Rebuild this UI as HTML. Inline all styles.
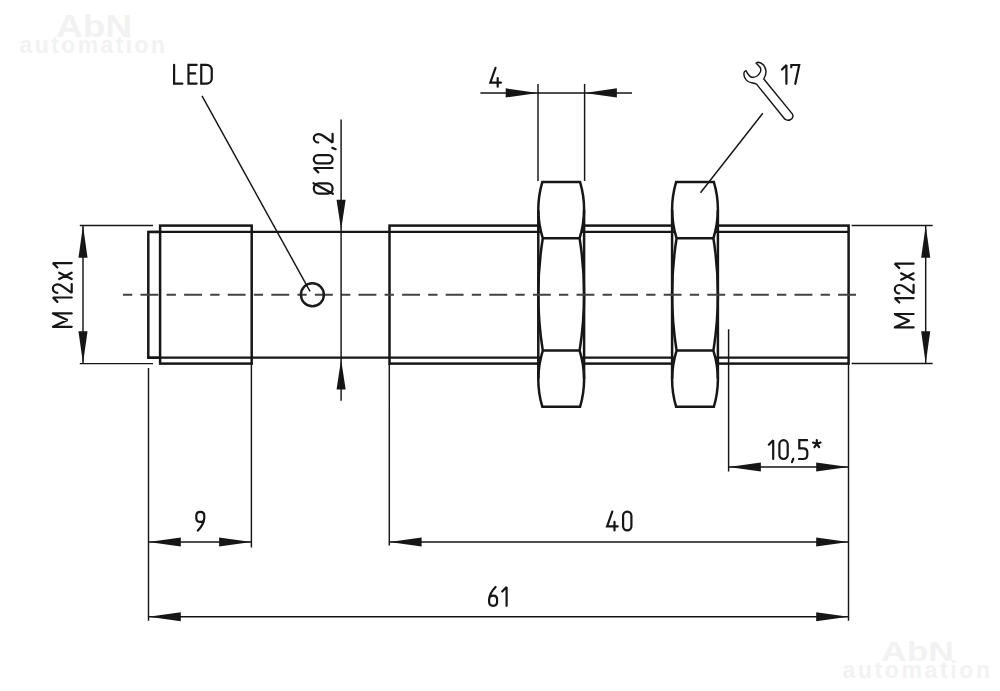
<!DOCTYPE html>
<html><head><meta charset="utf-8"><title>drawing</title>
<style>html,body{margin:0;padding:0;background:#fff;width:1000px;height:691px;overflow:hidden}svg{display:block}</style>
</head><body>
<svg width="1000" height="691" viewBox="0 0 1000 691">
<style>
.th{fill:none;stroke:#161616;stroke-width:2.5;stroke-linejoin:miter}
.tm{fill:none;stroke:#161616;stroke-width:2.2}
.tn{fill:none;stroke:#161616;stroke-width:1.45}
.wf{fill:#fff}
.ar{fill:#161616;stroke:none}
.tx path{fill:none;stroke:#161616;stroke-width:2.2;stroke-linecap:round;stroke-linejoin:miter;stroke-miterlimit:2}
.dash{fill:none;stroke:#424242;stroke-width:2.1;stroke-dasharray:9.3 8.2 17.9 8.2}
.wm{font-family:"Liberation Sans",sans-serif;font-weight:bold;fill:#f2f2f2}
</style>
<g class="wm">
<text x="56" y="36.5" font-size="30.5" textLength="76" lengthAdjust="spacingAndGlyphs">AbN</text>
<text x="19.5" y="53.4" font-size="23" textLength="145.5" lengthAdjust="spacing">automation</text>
<text x="881" y="660.6" font-size="28" textLength="73" lengthAdjust="spacingAndGlyphs">AbN</text>
<text x="842.5" y="678.2" font-size="23" textLength="147.5" lengthAdjust="spacing">automation</text>
</g>
<path class="th" d="M160.1,231.9 H148.3 V357.7 H160.1"/>
<rect class="th" x="160.1" y="225.6" width="91.6" height="138.0"/>
<path class="tm" d="M148.3,231.9 H389.5 M148.3,357.7 H389.5"/>
<rect class="th" x="389.5" y="225.6" width="459.1" height="138.0"/>
<path class="tm" d="M389.5,231.9 H848.6 M389.5,357.7 H848.6"/>
<path class="th wf" d="M542.30,182.1 H580.10 Q588.35,210.20 579.60,238.3 H542.80 Q534.05,210.20 542.30,182.1 Z M542.80,238.3 H579.60 Q588.60,294.45 579.60,350.6 H542.80 Q533.80,294.45 542.80,238.3 Z M542.80,350.6 H579.60 Q588.35,378.65 580.10,406.7 H542.30 Q534.05,378.65 542.80,350.6 Z"/><path class="th" d="M538.30,210.20 V378.65 M584.10,210.20 V378.65"/>
<path class="th wf" d="M676.10,182.1 H713.90 Q722.15,210.20 713.40,238.3 H676.60 Q667.85,210.20 676.10,182.1 Z M676.60,238.3 H713.40 Q722.40,294.45 713.40,350.6 H676.60 Q667.60,294.45 676.60,238.3 Z M676.60,350.6 H713.40 Q722.15,378.65 713.90,406.7 H676.10 Q667.85,378.65 676.60,350.6 Z"/><path class="th" d="M672.10,210.20 V378.65 M717.90,210.20 V378.65"/>
<path class="dash" d="M123,294.7 H856"/>
<circle cx="312.4" cy="294.8" r="11.5" fill="none" stroke="#1a1a1a" stroke-width="2.4"/>
<path class="tn" d="M202,95.8 L310,291.3"/>
<path class="ar" d="M341.10,229.80 L336.55,199.80 L345.65,199.80 Z"/>
<path class="ar" d="M341.10,359.60 L336.55,389.60 L345.65,389.60 Z"/>
<path class="ar" d="M83.00,225.50 L78.45,257.80 L87.55,257.80 Z"/>
<path class="ar" d="M83.00,363.60 L78.45,331.30 L87.55,331.30 Z"/>
<path class="ar" d="M925.70,225.50 L921.15,257.80 L930.25,257.80 Z"/>
<path class="ar" d="M925.70,363.50 L921.15,331.20 L930.25,331.20 Z"/>
<path class="ar" d="M538.00,92.90 L505.70,88.35 L505.70,97.45 Z"/>
<path class="ar" d="M584.60,92.90 L616.90,88.35 L616.90,97.45 Z"/>
<path class="ar" d="M148.50,542.00 L180.80,537.45 L180.80,546.55 Z"/>
<path class="ar" d="M251.40,542.00 L219.10,537.45 L219.10,546.55 Z"/>
<path class="ar" d="M389.30,542.00 L421.60,537.45 L421.60,546.55 Z"/>
<path class="ar" d="M848.50,542.00 L816.20,537.45 L816.20,546.55 Z"/>
<path class="ar" d="M148.50,616.70 L180.80,612.15 L180.80,621.25 Z"/>
<path class="ar" d="M848.50,616.70 L816.20,612.15 L816.20,621.25 Z"/>
<path class="ar" d="M728.60,467.00 L760.90,462.45 L760.90,471.55 Z"/>
<path class="ar" d="M848.50,467.00 L816.20,462.45 L816.20,471.55 Z"/>
<path class="tn" d="M341.1,119.4 V400.8 M79.8,225.5 H153 M79.8,363.6 H153 M83,225.5 V363.6 M851.6,225.5 H932.6 M851.6,363.5 H932.6 M925.7,225.5 V363.5 M480.4,92.9 H632 M538,84 V181 M584.6,84 V181 M762.8,113.2 L700.5,192.7 M148.5,368 V620.8 M251.4,363.5 V547.4 M389.3,364 V545.6 M848.5,363.5 V620.8 M728.6,329.3 V471.6 M148.5,542 H251.4 M389.3,542 H848.5 M148.5,616.7 H848.5 M728.6,467 H848.5"/>
<path class="tn" stroke-width="1.5" stroke-linejoin="round" d="M745.9,70.6 C747.5,73.5 749,76.5 751.5,77.2 C755,77.8 758.5,75.5 760.3,72 C761.3,69.5 760.5,67 758.7,65.8 L756.1,63.2 C756.8,62.5 757.8,62.2 758.6,62.2 C762.5,62.8 765.8,66.5 766,71.5 C766.1,74.5 765,77 763.8,79 L792.3,113.9 C793.7,116 792.7,118.8 790.3,119.7 C788.5,120.4 786.5,120.3 784.9,119.2 L756.5,84.1 C754,82.9 750.5,83 748,81.5 C745,79.5 743.8,76.5 743.9,73.2 C744,72 744.8,71 745.9,70.6 Z"/>
<g class="tx">
<g transform="translate(173.0,63.7)"><path transform="translate(0,0)" d="M1.1,1.1 V19.9 H9.4" /><path transform="translate(14.4,0)" d="M9.25,1.1 H1.1 V19.9 H9.25 M1.1,9.75 H7.75" /><path transform="translate(27.15,0)" d="M1.1,1.1 H6.4 A5.2,5.2 0 0 1 11.6,6.3 V14.7 A5.2,5.2 0 0 1 6.4,19.9 H1.1 Z" /></g>
<g transform="translate(489.2,66.8)"><path transform="translate(0,0)" d="M6.3,1.1 L1.1,15.9 H11.7 M8.5,11.4 V19.9" /></g>
<g transform="translate(780.6,63.9)"><path transform="translate(0,0)" d="M1.4,5.6 L5.8,1.1 V19.9" /><path transform="translate(9.6,0)" d="M1.1,3.4 V1.1 H9.0 L5.1,19.9" /></g>
<g transform="translate(195.2,510.7)"><path transform="translate(0,0) rotate(180 5.1 10.5)" d="M7.6,1.1 Q1.6,7 1.1,13.8 M1.1,13.8 Q1.1,9.8 5.1,9.8 Q9.1,9.8 9.1,13.8 V15.9 Q9.1,19.9 5.1,19.9 Q1.1,19.9 1.1,15.9 Z" /></g>
<g transform="translate(606.0,510.5)"><path transform="translate(0,0)" d="M6.3,1.1 L1.1,15.9 H11.7 M8.5,11.4 V19.9" /><path transform="translate(16.0,0)" d="M1.1,5.25 A4.15,4.15 0 0 1 9.4,5.25 V15.75 A4.15,4.15 0 0 1 1.1,15.75 Z" /></g>
<g transform="translate(488.0,585.9)"><path transform="translate(0,0)" d="M7.6,1.1 Q1.6,7 1.1,13.8 M1.1,13.8 Q1.1,9.8 5.1,9.8 Q9.1,9.8 9.1,13.8 V15.9 Q9.1,19.9 5.1,19.9 Q1.1,19.9 1.1,15.9 Z" /><path transform="translate(12.8,0)" d="M1.4,5.6 L5.8,1.1 V19.9" /></g>
<g transform="translate(767.4,439.1)"><path transform="translate(0,0)" d="M1.4,5.6 L5.8,1.1 V19.9" /><path transform="translate(10.9,0)" d="M1.1,5.25 A4.15,4.15 0 0 1 9.4,5.25 V15.75 A4.15,4.15 0 0 1 1.1,15.75 Z" /><path transform="translate(22.9,0)" d="M3.0,19.6 L1.7,23.0" /><path transform="translate(30.4,0)" d="M9.3,1.1 H1.5 V9.2 H5.3 Q9.5,9.2 9.5,13.5 V15.6 Q9.5,19.9 5.3,19.9 H1.1" /><path transform="translate(43.8,0)" d="M5.6,0.9 V4.7 L9.4,3.46 M5.6,4.7 L7.95,7.94 M5.6,4.7 L3.25,7.94 M5.6,4.7 L1.8,3.46" /></g>
<g transform="translate(312.7,194.7) rotate(-90)"><path transform="translate(0,0)" d="M1.1,6.2 A5.1,5.1 0 0 1 11.3,6.2 V14.8 A5.1,5.1 0 0 1 1.1,14.8 Z M11.5,0.8 L0.9,20.2" /><path transform="translate(20.9,0)" d="M1.4,5.6 L5.8,1.1 V19.9" /><path transform="translate(30.2,0)" d="M1.1,5.25 A4.15,4.15 0 0 1 9.4,5.25 V15.75 A4.15,4.15 0 0 1 1.1,15.75 Z" /><path transform="translate(43.8,0)" d="M3.0,19.6 L1.7,23.0" /><path transform="translate(51.1,0)" d="M1.1,5.6 A4.2,4.5 0 0 1 9.5,5.6 Q9.5,8.2 7.6,10.8 L1.1,19.9 H9.7" /></g>
<g transform="translate(51.8,327.9) rotate(-90)"><path transform="translate(0,0)" d="M1.1,19.9 V1.1 M14.5,19.9 V1.1 M1.5,1.6 L7.8,15.7 L14.1,1.6" /><path transform="translate(24.6,0)" d="M1.4,5.6 L5.8,1.1 V19.9" /><path transform="translate(34.0,0)" d="M1.1,5.6 A4.2,4.5 0 0 1 9.5,5.6 Q9.5,8.2 7.6,10.8 L1.1,19.9 H9.7" /><path transform="translate(46.9,0)" d="M1.9,7.4 L8.3,19.9 M8.3,7.4 L1.9,19.9" /><path transform="translate(59.0,0)" d="M1.4,5.6 L5.8,1.1 V19.9" /></g>
<g transform="translate(893.7,328.5) rotate(-90)"><path transform="translate(0,0)" d="M1.1,19.9 V1.1 M14.5,19.9 V1.1 M1.5,1.6 L7.8,15.7 L14.1,1.6" /><path transform="translate(24.6,0)" d="M1.4,5.6 L5.8,1.1 V19.9" /><path transform="translate(34.0,0)" d="M1.1,5.6 A4.2,4.5 0 0 1 9.5,5.6 Q9.5,8.2 7.6,10.8 L1.1,19.9 H9.7" /><path transform="translate(46.9,0)" d="M1.9,7.4 L8.3,19.9 M8.3,7.4 L1.9,19.9" /><path transform="translate(59.0,0)" d="M1.4,5.6 L5.8,1.1 V19.9" /></g>
</g>
</svg>
</body></html>
